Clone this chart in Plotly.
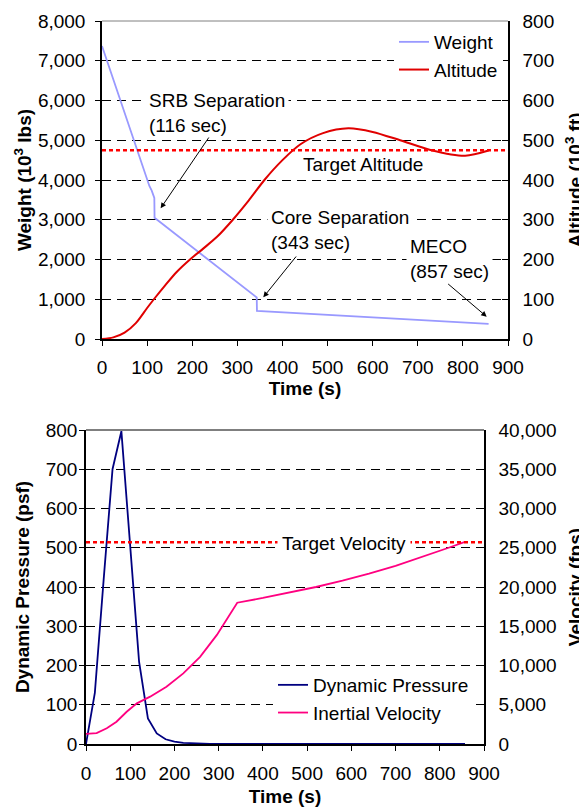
import plotly.graph_objects as go

# ---------------- data ----------------
weight_time = [0, 100, 105, 110, 114, 116, 116.5, 343, 343.5, 857]
weight_klbs = [7370, 3990, 3850, 3740, 3620, 3550, 3050, 1045, 705, 380]

alt_time = [0, 25, 50, 75, 100, 115, 140, 165, 195, 225, 255, 290, 325, 360,
            400, 440, 490, 546, 600, 661, 730, 805, 857]
alt_kft = [0, 4, 16, 40, 78, 100, 135, 168, 200, 228, 257, 300, 348, 400,
           450, 490, 518, 530, 521, 500, 475, 461, 474]
target_altitude_kft = 475

q_time = [0, 20, 40, 60, 80, 100, 120, 140, 160, 180, 200, 220, 240, 260, 280,
          300, 400, 500, 600, 700, 800, 857]
q_psf = [0, 130, 420, 700, 797, 500, 210, 65, 27, 12, 6, 3, 1.5, 0.8, 0.4,
         0.2, 0, 0, 0, 0, 0, 0]

v_time = [0, 24, 47, 69, 92, 115, 145, 182, 220, 258, 296, 342, 400, 460, 520,
          580, 640, 700, 760, 820, 857]
v_fps = [1300, 1380, 2000, 2840, 4110, 5180, 6030, 7300, 9000, 11100, 13900,
         18000, 18600, 19300, 20000, 20800, 21700, 22700, 23800, 25000, 25750]
target_velocity_fps = 25700

time_range = [0, 900]

FONT = "Liberation Sans, Arial, sans-serif"
FS = 19

fig = go.Figure()

# top chart
fig.add_trace(go.Scatter(x=weight_time, y=weight_klbs, name="Weight", mode="lines",
                         line=dict(color="#9999FF", width=1.8), xaxis="x", yaxis="y",
                         legend="legend"))
fig.add_trace(go.Scatter(x=alt_time, y=alt_kft, name="Altitude", mode="lines",
                         line=dict(color="#E00000", width=2, shape="spline", smoothing=0.8),
                         xaxis="x", yaxis="y2", legend="legend"))
fig.add_trace(go.Scatter(x=time_range, y=[target_altitude_kft] * 2, mode="lines",
                         line=dict(color="#FF0000", width=2.5, dash="4px,3px"),
                         xaxis="x", yaxis="y2", showlegend=False, hoverinfo="skip"))

# bottom chart
fig.add_trace(go.Scatter(x=q_time, y=q_psf, name="Dynamic Pressure", mode="lines",
                         line=dict(color="#000080", width=1.8), xaxis="x2", yaxis="y3",
                         legend="legend2"))
fig.add_trace(go.Scatter(x=v_time, y=v_fps, name="Inertial Velocity", mode="lines",
                         line=dict(color="#FF0080", width=1.8), xaxis="x2", yaxis="y4",
                         legend="legend2"))
fig.add_trace(go.Scatter(x=time_range, y=[target_velocity_fps] * 2, mode="lines",
                         line=dict(color="#FF0000", width=2.5, dash="4px,3px"),
                         xaxis="x2", yaxis="y4", showlegend=False, hoverinfo="skip"))

# ---------------- layout ----------------
# the page body adds an 8px margin, so the figure is laid out 8px up/left
OFF = 8
ML, MR, MT, MB = 78, 87, 13, 74
PW = 587 - ML - MR
PH = 810 - MT - MB


def px_x(px):
    return (px - OFF - ML) / PW


def px_y(py):
    return (810 - MB - (py - OFF)) / PH


common = dict(showline=True, linecolor="black", linewidth=1.5, ticks="outside",
              ticklen=5, tickcolor="black", tickwidth=1,
              tickfont=dict(size=FS, family=FONT, color="black"),
              zeroline=False, automargin=False)
grid = dict(showgrid=True, gridcolor="black", gridwidth=1, griddash="9px,6px")
title_font = dict(size=FS, family=FONT, color="black", weight="bold")

fig.update_layout(
    width=587, height=810, autosize=False,
    margin=dict(l=ML, r=MR, t=MT, b=MB),
    paper_bgcolor="white", plot_bgcolor="white",
    font=dict(family=FONT, size=FS, color="black"),
    xaxis=dict(domain=[px_x(102), px_x(508)], anchor="y", range=time_range, dtick=100,
               showgrid=False, ticklabelstandoff=5,
               title=dict(text="Time (s)", font=title_font, standoff=5), **common),
    yaxis=dict(domain=[px_y(339), px_y(21)], anchor="x", range=[0, 8000], dtick=1000,
               tickformat=",", ticklabelstandoff=6,
               title=dict(text="Weight (10<sup>3</sup> lbs)", font=title_font, standoff=1),
               **grid, **common),
    yaxis2=dict(overlaying="y", side="right", anchor="x", range=[0, 800], dtick=100,
                showgrid=False, ticklabelstandoff=9,
                title=dict(text="Altitude (10<sup>3</sup> ft)", font=title_font, standoff=15),
                **{**common, "ticks": "inside", "ticklen": 6}),
    xaxis2=dict(domain=[px_x(86), px_x(484)], anchor="y3", range=time_range, dtick=100,
                showgrid=False, ticklabelstandoff=6,
                title=dict(text="Time (s)", font=title_font, standoff=7), **common),
    yaxis3=dict(domain=[px_y(744), px_y(430)], anchor="x2", range=[0, 800], dtick=100,
                ticklabelstandoff=-2,
                title=dict(text="Dynamic Pressure (psf)", font=title_font, standoff=11),
                **grid, **common),
    yaxis4=dict(overlaying="y3", side="right", anchor="x2", range=[0, 40000], dtick=5000,
                tickformat=",", showgrid=False, ticklabelstandoff=9,
                title=dict(text="Velocity (fps)", font=title_font, standoff=13),
                **{**common, "ticks": "inside", "ticklen": 6}),
    legend=dict(x=px_x(394), y=px_y(23), xanchor="left", yanchor="top",
                bgcolor="white", borderwidth=0, font=dict(size=FS, family=FONT),
                tracegroupgap=0),
    legend2=dict(x=px_x(273), y=px_y(666), xanchor="left", yanchor="top",
                 bgcolor="white", borderwidth=0, font=dict(size=FS, family=FONT),
                 tracegroupgap=0),
    showlegend=True,
)

# top border lines of plot areas
fig.add_shape(type="line", xref="x domain", yref="y domain", x0=0, x1=1, y0=1, y1=1,
              line=dict(color="#808080", width=1))
fig.add_shape(type="line", xref="x2 domain", yref="y3 domain", x0=0, x1=1, y0=1, y1=1,
              line=dict(color="black", width=1.2))

ann_font = dict(size=FS, family=FONT, color="black")
notes = [
    dict(x=95, y=5698, xref="x", yref="y", text="SRB Separation<br>(116 sec)",
         xanchor="left", yanchor="middle", align="left", showarrow=False,
         bgcolor="white", borderpad=3, font=ann_font),
    dict(x=365, y=2742, xref="x", yref="y", text="Core Separation<br>(343 sec)",
         xanchor="left", yanchor="middle", align="left", showarrow=False,
         bgcolor="white", borderpad=3, font=ann_font),
    dict(x=674, y=2025, xref="x", yref="y", text="MECO<br>(857 sec)",
         xanchor="left", yanchor="middle", align="left", showarrow=False,
         bgcolor="white", borderpad=3, font=ann_font),
    dict(x=579, y=438, xref="x", yref="y2", text="Target Altitude",
         xanchor="center", yanchor="middle", showarrow=False, font=ann_font),
    dict(x=583, y=25480, xref="x2", yref="y4", text="Target Velocity",
         xanchor="center", yanchor="middle", showarrow=False,
         bgcolor="white", borderpad=4, font=ann_font),
]
arrows = [
    (130, 3288, 239, 5107),
    (357.6, 1049, 433, 2113),
    (852.8, 561, 764, 1416),
]
for hx, hy, tx, ty in arrows:
    notes.append(dict(x=hx, y=hy, xref="x", yref="y", ax=tx, ay=ty, axref="x", ayref="y",
                      text="", showarrow=True, arrowhead=2, arrowsize=1.1,
                      arrowwidth=1, arrowcolor="black"))
fig.update_layout(annotations=notes)

fig.write_html("out.html")
